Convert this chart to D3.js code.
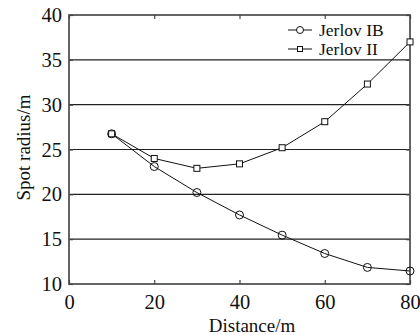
<!DOCTYPE html>
<html>
<head>
<meta charset="utf-8">
<script src="https://cdn.jsdelivr.net/npm/d3@7"></script>
<style>
  body { margin: 0; background: #fff; }
  svg text { font-family: "Liberation Serif", "Times New Roman", serif !important; }
</style>
</head>
<body>
<svg id="chart"></svg>
<script>
const distances = [10, 20, 30, 40, 50, 60, 70, 80];
const jerlovIB = [26.75, 23.1, 20.2, 17.7, 15.45, 13.4, 11.85, 11.45];
const jerlovII = [26.75, 24.0, 22.9, 23.4, 25.2, 28.1, 32.3, 37.0];
const xTicks = [0, 20, 40, 60, 80];
const yTicks = [10, 15, 20, 25, 30, 35, 40];

const W = 420, H = 335;
const margin = { top: 15, right: 10, bottom: 51, left: 69 };
const width = W - margin.left - margin.right;
const height = H - margin.top - margin.bottom;

const svg = d3.select("#chart").attr("width", W).attr("height", H);
const g = svg.append("g").attr("transform", `translate(${margin.left},${margin.top})`);

const x = d3.scaleLinear().domain([0, 80]).range([0, width]);
const y = d3.scaleLinear().domain([10, 40]).range([height, 0]);

// horizontal grid lines
g.selectAll(".grid")
  .data(yTicks.filter(d => d > 10 && d < 40))
  .enter().append("line")
  .attr("x1", 0).attr("x2", width)
  .attr("y1", d => y(d)).attr("y2", d => y(d))
  .attr("stroke", "#222").attr("stroke-width", 1.2);

// frame
g.append("rect")
  .attr("width", width).attr("height", height)
  .attr("fill", "none").attr("stroke", "#555").attr("stroke-width", 1.8);

// axes (ticks inward)
const xAxis = g.append("g").attr("transform", `translate(0,${height})`)
  .call(d3.axisBottom(x).tickValues(xTicks).tickSize(-4).tickPadding(10));
const xTop = g.append("g")
  .call(d3.axisTop(x).tickValues(xTicks).tickSize(-4).tickFormat(""));
const yAxis = g.append("g")
  .call(d3.axisLeft(y).tickValues(yTicks).tickSize(-4).tickPadding(7));
const yRight = g.append("g").attr("transform", `translate(${width},0)`)
  .call(d3.axisRight(y).tickValues(yTicks).tickSize(-4).tickFormat(""));

[xAxis, xTop, yAxis, yRight].forEach(a => {
  a.attr("font-family", null);
  a.select(".domain").remove();
  a.selectAll(".tick line").attr("stroke", "#444").attr("stroke-width", 1.2);
  a.selectAll("text").attr("font-size", 20.5).attr("fill", "#111");
});

// series lines
const line = d3.line().x((d, i) => x(distances[i])).y(d => y(d));
g.append("path").datum(jerlovIB).attr("d", line)
  .attr("fill", "none").attr("stroke", "#111").attr("stroke-width", 1);
g.append("path").datum(jerlovII).attr("d", line)
  .attr("fill", "none").attr("stroke", "#111").attr("stroke-width", 1);

// markers
g.selectAll(".sq").data(jerlovII).enter().append("rect")
  .attr("x", (d, i) => x(distances[i]) - 3).attr("y", d => y(d) - 3)
  .attr("width", 6).attr("height", 6)
  .attr("fill", "#fff").attr("stroke", "#111").attr("stroke-width", 1);
g.selectAll(".ci").data(jerlovIB).enter().append("circle")
  .attr("cx", (d, i) => x(distances[i])).attr("cy", d => y(d))
  .attr("r", 4)
  .attr("fill", "none").attr("stroke", "#111").attr("stroke-width", 1);

// legend
const legend = g.append("g").attr("transform", "translate(219,15)");
const items = ["Jerlov IB", "Jerlov II"];
items.forEach((name, i) => {
  const row = legend.append("g").attr("transform", `translate(0,${i * 19})`);
  row.append("line").attr("x1", 0).attr("x2", 24).attr("y1", 0).attr("y2", 0)
    .attr("stroke", "#111").attr("stroke-width", 1);
  if (i === 0) {
    row.append("circle").attr("cx", 12).attr("cy", 0).attr("r", 3.5)
      .attr("fill", "#fff").attr("stroke", "#111");
  } else {
    row.append("rect").attr("x", 9.5).attr("y", -2.5).attr("width", 5).attr("height", 5)
      .attr("fill", "#fff").attr("stroke", "#111");
  }
  row.append("text").attr("x", 31).attr("y", 6)
    .attr("font-size", 17.5).attr("fill", "#111").text(name);
});

// axis labels
svg.append("text")
  .attr("x", 252).attr("y", 332)
  .attr("text-anchor", "middle").attr("font-size", 19).attr("fill", "#111")
  .text("Distance/m");
svg.append("text")
  .attr("transform", `translate(30,${margin.top + height / 2 - 2}) rotate(-90)`)
  .attr("text-anchor", "middle").attr("font-size", 19).attr("fill", "#111")
  .text("Spot radius/m");
</script>
</body>
</html>
